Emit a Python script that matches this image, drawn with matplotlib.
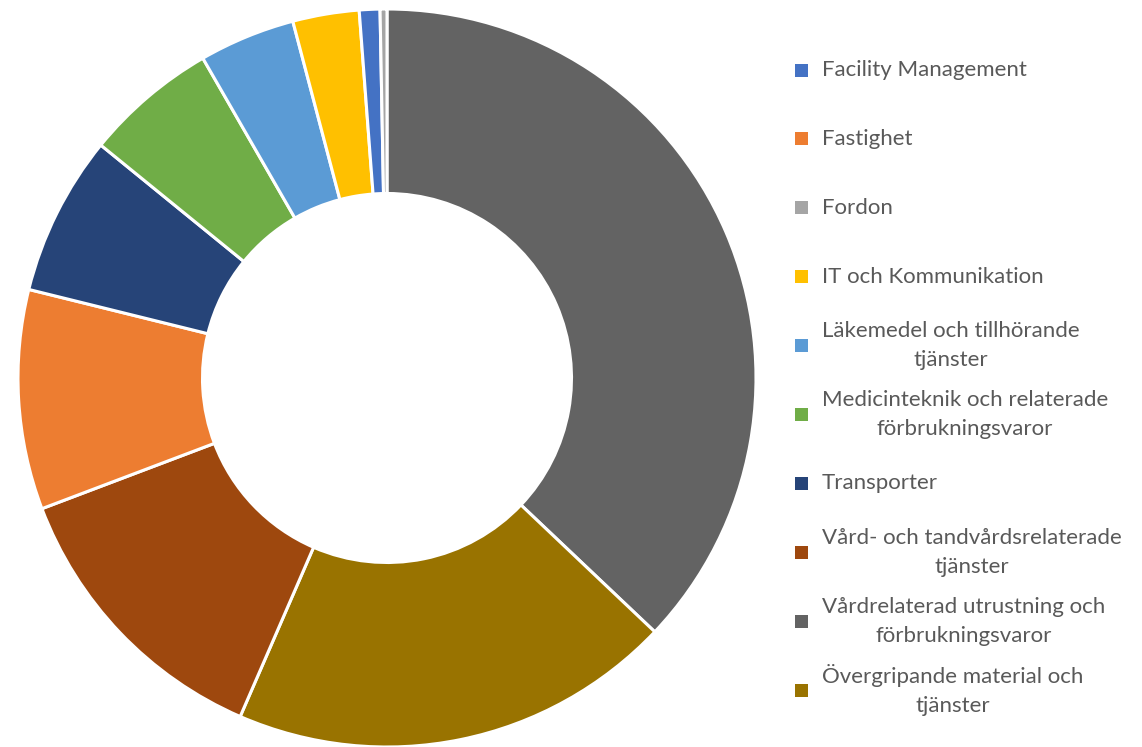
import matplotlib.pyplot as plt
from matplotlib.patches import Rectangle
import numpy as np

# categories in legend (alphabetical) order
categories = [
    "Facility Management",
    "Fastighet",
    "Fordon",
    "IT och Kommunikation",
    "Läkemedel och tillhörande\ntjänster",
    "Medicinteknik och relaterade\nförbrukningsvaror",
    "Transporter",
    "Vård- och tandvårdsrelaterade\ntjänster",
    "Vårdrelaterad utrustning och\nförbrukningsvaror",
    "Övergripande material och\ntjänster",
]
shares = [0.9, 9.6, 0.3, 2.9, 4.2, 5.8, 7.0, 12.7, 37.0, 19.4]
colors = ["#4472C4", "#ED7D31", "#A5A5A5", "#FFC000", "#5B9BD5",
          "#70AD47", "#264478", "#9E480E", "#636363", "#997300"]

W, H = 1142, 747
fig = plt.figure(figsize=(W / 100, H / 100), dpi=100)

# donut drawn largest first, clockwise from 12 o'clock
order = np.argsort(shares)[::-1]
ax = fig.add_axes([18 / W, 0 / H, 738 / W, 738 / H])
ax.pie([shares[i] for i in order], colors=[colors[i] for i in order],
       startangle=90, counterclock=False, radius=1.0,
       wedgeprops=dict(width=0.5, edgecolor="white", linewidth=2.2))
ax.set_xlim(-1, 1)
ax.set_ylim(-1, 1)
ax.set_aspect("equal")
ax.axis("off")

# legend, one slot per category
y0, step = 70, 68.9
for k, (lab, col) in enumerate(zip(categories, colors)):
    yc = y0 + k * step
    fig.patches.append(Rectangle((795 / W, 1 - (yc + 6.5) / H), 13 / W, 13 / H,
                                 facecolor=col, edgecolor="none",
                                 transform=fig.transFigure))
    fig.text(822 / W, 1 - yc / H, lab, ha="left", va="center",
             multialignment="center", fontsize=16, color="#595959",
             family="Lato", linespacing=1.55)

fig.savefig("out.png", dpi=100)
